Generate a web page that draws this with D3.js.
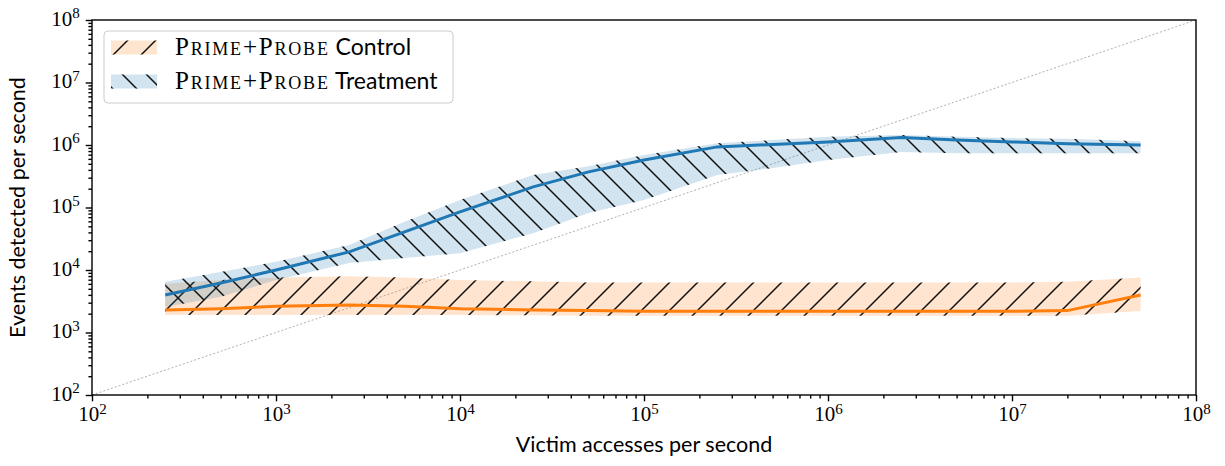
<!DOCTYPE html>
<html>
<head>
<meta charset="utf-8">
<script src="https://cdn.jsdelivr.net/npm/d3@7/dist/d3.min.js"></script>
<style>
body { margin: 0; background: #fff; }
.tick text { font-family: "Liberation Serif", serif; font-size: 21px; fill: #000; }
.tick line { stroke: #000; stroke-width: 1.4; }
.axis-label { font-family: "Lato", sans-serif; font-size: 21.5px; fill: #000; }
.legend-text { font-size: 23px; fill: #000; }
</style>
</head>
<body>
<script>
'use strict';

// victim accesses per second (x)
var accesses = [250, 500, 1000, 2500, 5000, 1e4, 2.5e4, 5e4, 1e5, 2.5e5, 5e5, 1e6, 2.5e6, 5e6, 1e7, 2e7, 5e7];

// Prime+Probe control: median and band
var controlMid  = [2290, 2400, 2630, 2750, 2630, 2400, 2290, 2240, 2190, 2190, 2190, 2190, 2190, 2190, 2190, 2240, 3980];
var controlHigh = [6030, 6900, 7590, 7940, 7590, 6900, 6600, 6310, 6310, 6310, 6310, 6310, 6310, 6310, 6310, 6460, 7590];
var controlLow  = [1900, 1900, 1900, 1900, 1900, 1900, 1880, 1860, 1850, 1850, 1850, 1850, 1850, 1850, 1850, 1860, 2200];

// Prime+Probe treatment: median and band
var treatMid  = [3980, 6200, 10000, 19500, 40700, 85000, 214000, 372000, 575000, 933000, 1020000, 1120000, 1320000, 1200000, 1120000, 1050000, 1000000];
var treatHigh = [6500, 9300, 13500, 25100, 58900, 132000, 331000, 457000, 692000, 1070000, 1200000, 1350000, 1450000, 1350000, 1290000, 1260000, 1150000];
var treatLow  = [2570, 3720, 6900, 12900, 15500, 18600, 38900, 81300, 132000, 331000, 427000, 575000, 776000, 741000, 741000, 741000, 741000];

var axisDomain = [1e2, 1e8];
var majorTicks = [1e2, 1e3, 1e4, 1e5, 1e6, 1e7, 1e8];
var legendLabels = ["Control", "Treatment"];

var chart = {};
chart.width = 1225;
chart.height = 466;
chart.left = 92;
chart.right = 1196;
chart.top = 20;
chart.bottom = 395;

chart.appendSvg = function(domObj){
    return d3.select(domObj)
        .append("svg")
        .attr("width", chart.width)
        .attr("height", chart.height);
}

chart.createXScale = function(){
    return d3.scaleLog().domain(axisDomain).range([chart.left, chart.right]);
}

chart.createYScale = function(){
    return d3.scaleLog().domain(axisDomain).range([chart.bottom, chart.top]);
}

chart.minorTicks = function(){
    var minors = [];
    for (var i = 0; i < majorTicks.length - 1; i++) {
        for (var k = 2; k < 10; k++) minors.push(majorTicks[i] * k);
    }
    return minors;
}

chart.addHatch = function(defs, id, s, forward){
    var d;
    if (forward) {
        d = "M0," + s + "L" + s + ",0" +
            "M" + (-s / 4) + "," + (s / 4) + "L" + (s / 4) + "," + (-s / 4) +
            "M" + (3 * s / 4) + "," + (5 * s / 4) + "L" + (5 * s / 4) + "," + (3 * s / 4);
    } else {
        d = "M0,0L" + s + "," + s +
            "M" + (-s / 4) + "," + (3 * s / 4) + "L" + (s / 4) + "," + (5 * s / 4) +
            "M" + (3 * s / 4) + "," + (-s / 4) + "L" + (5 * s / 4) + "," + (s / 4);
    }
    defs.append("pattern")
        .attr("id", id)
        .attr("patternUnits", "userSpaceOnUse")
        .attr("width", s)
        .attr("height", s)
        .append("path")
            .attr("d", d)
            .attr("stroke", "#111")
            .attr("stroke-width", 1.5)
            .attr("fill", "none");
}

chart.superscript = function(sel){
    sel.each(function(v){
        var t = d3.select(this).text(null);
        t.append("tspan").text("10");
        t.append("tspan")
            .attr("dy", "-0.5em")
            .style("font-size", "15px")
            .text(Math.round(Math.log10(v)));
    });
}

chart.appendAxes = function(svg, x, y){
    var minors = chart.minorTicks();

    var xMinor = svg.append("g")
        .attr("transform", "translate(0," + chart.bottom + ")")
        .call(d3.axisBottom(x).tickValues(minors).tickSize(3.6).tickFormat(""));
    var xMajor = svg.append("g")
        .attr("transform", "translate(0," + chart.bottom + ")")
        .call(d3.axisBottom(x).tickValues(majorTicks).tickSize(6.3).tickPadding(5).tickFormat(function(d){ return d; }));
    xMajor.selectAll(".tick text").call(chart.superscript);

    var yMinor = svg.append("g")
        .attr("transform", "translate(" + chart.left + ",0)")
        .call(d3.axisLeft(y).tickValues(minors).tickSize(3.6).tickFormat(""));
    var yMajor = svg.append("g")
        .attr("transform", "translate(" + chart.left + ",0)")
        .call(d3.axisLeft(y).tickValues(majorTicks).tickSize(6.3).tickPadding(6).tickFormat(function(d){ return d; }));
    yMajor.selectAll(".tick text").attr("dy", "0.25em").call(chart.superscript);

    [xMinor, xMajor, yMinor, yMajor].forEach(function(g){
        g.select(".domain").remove();
    });

    svg.append("rect")
        .attr("x", chart.left)
        .attr("y", chart.top)
        .attr("width", chart.right - chart.left)
        .attr("height", chart.bottom - chart.top)
        .attr("fill", "none")
        .attr("stroke", "#000")
        .attr("stroke-width", 1.4);

    svg.append("text")
        .classed("axis-label", true)
        .attr("x", (chart.left + chart.right) / 2)
        .attr("y", 452)
        .attr("text-anchor", "middle")
        .text("Victim accesses per second");

    svg.append("text")
        .classed("axis-label", true)
        .attr("transform", "translate(25," + (chart.top + chart.bottom) / 2 + ") rotate(-90)")
        .attr("text-anchor", "middle")
        .text("Events detected per second");
}

chart.appendBand = function(plot, x, y, low, mid, high, color, hatchId){
    var rows = accesses.map(function(a, i){
        return { a: a, lo: low[i], mid: mid[i], hi: high[i] };
    });
    var area = d3.area()
        .x(function(d){ return x(d.a); })
        .y0(function(d){ return y(d.lo); })
        .y1(function(d){ return y(d.hi); });

    plot.append("path").attr("d", area(rows)).attr("fill", color).attr("fill-opacity", 0.2);
    plot.append("path").attr("d", area(rows)).attr("fill", "url(#" + hatchId + ")");
    return rows;
}

chart.appendLine = function(plot, x, y, rows, color){
    var line = d3.line()
        .x(function(d){ return x(d.a); })
        .y(function(d){ return y(d.mid); });
    plot.append("path")
        .attr("d", line(rows))
        .attr("fill", "none")
        .attr("stroke", color)
        .attr("stroke-width", 3);
}

chart.appendLegend = function(svg){
    var g = svg.append("g");
    g.append("rect")
        .attr("x", 104).attr("y", 31)
        .attr("width", 349).attr("height", 72)
        .attr("rx", 4)
        .attr("fill", "#fff").attr("fill-opacity", 0.8)
        .attr("stroke", "#cccccc").attr("stroke-width", 1);

    var entries = [
        { label: legendLabels[0], color: "#ff7f0e", hatch: "hatch-fwd" },
        { label: legendLabels[1], color: "#1f77b4", hatch: "hatch-back" }
    ];
    entries.forEach(function(e, i){
        var cy = 47.5 + i * 34;
        g.append("rect").attr("x", 111).attr("y", cy - 7).attr("width", 46).attr("height", 14)
            .attr("fill", e.color).attr("fill-opacity", 0.2);
        g.append("rect").attr("x", 111).attr("y", cy - 7).attr("width", 46).attr("height", 14)
            .attr("fill", "url(#" + e.hatch + ")");
        var t = g.append("text")
            .classed("legend-text", true)
            .attr("x", 175)
            .attr("y", cy + 7);
        t.append("tspan")
            .style("font-family", "'Liberation Serif', serif")
            .style("font-variant", "small-caps")
            .style("font-size", "25px")
            .style("letter-spacing", "1.8px")
            .text("Prime+Probe");
        t.append("tspan")
            .style("font-family", "Lato, sans-serif")
            .text(" " + e.label);
    });
}

chart.run = function(){
    var svg = chart.appendSvg("body");
    var x = chart.createXScale();
    var y = chart.createYScale();

    var defs = svg.append("defs");
    chart.addHatch(defs, "hatch-fwd", 28, true);
    chart.addHatch(defs, "hatch-back", 24, false);
    defs.append("clipPath").attr("id", "plot-clip")
        .append("rect")
        .attr("x", chart.left).attr("y", chart.top)
        .attr("width", chart.right - chart.left).attr("height", chart.bottom - chart.top);

    var plot = svg.append("g").attr("clip-path", "url(#plot-clip)");

    plot.append("line")
        .attr("x1", x(axisDomain[0])).attr("y1", y(axisDomain[0]))
        .attr("x2", x(axisDomain[1])).attr("y2", y(axisDomain[1]))
        .attr("stroke", "#b0b0b0")
        .attr("stroke-width", 1)
        .attr("stroke-dasharray", "2,2");

    var controlRows = chart.appendBand(plot, x, y, controlLow, controlMid, controlHigh, "#ff7f0e", "hatch-fwd");
    var treatRows = chart.appendBand(plot, x, y, treatLow, treatMid, treatHigh, "#1f77b4", "hatch-back");
    chart.appendLine(plot, x, y, controlRows, "#ff7f0e");
    chart.appendLine(plot, x, y, treatRows, "#1f77b4");

    chart.appendAxes(svg, x, y);
    chart.appendLegend(svg);
}

window.onload = chart.run;
</script>
</body>
</html>
